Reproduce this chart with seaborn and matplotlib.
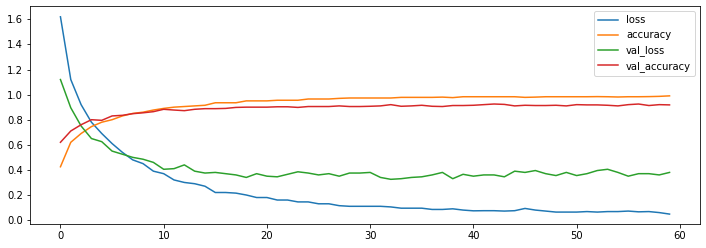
import matplotlib
matplotlib.use("Agg")
import matplotlib.pyplot as plt
import seaborn as sns
import pandas as pd
import numpy as np

epochs = list(range(60))

loss = [1.62, 1.12, 0.92, 0.78, 0.69, 0.61, 0.54, 0.48, 0.45, 0.39,
        0.37, 0.32, 0.30, 0.29, 0.27, 0.22, 0.22, 0.215, 0.20, 0.18,
        0.18, 0.16, 0.16, 0.145, 0.145, 0.13, 0.13, 0.115, 0.11, 0.11,
        0.11, 0.11, 0.105, 0.095, 0.095, 0.095, 0.085, 0.085, 0.09, 0.08,
        0.074, 0.075, 0.075, 0.072, 0.075, 0.093, 0.08, 0.072, 0.064, 0.064,
        0.064, 0.068, 0.064, 0.068, 0.068, 0.072, 0.066, 0.068, 0.06, 0.048]

accuracy = [0.425, 0.62, 0.69, 0.745, 0.78, 0.80, 0.83, 0.85, 0.86, 0.877,
            0.89, 0.90, 0.905, 0.91, 0.915, 0.935, 0.935, 0.935, 0.95, 0.95,
            0.95, 0.955, 0.955, 0.955, 0.965, 0.965, 0.965, 0.97, 0.973, 0.973,
            0.973, 0.973, 0.973, 0.978, 0.978, 0.978, 0.978, 0.98, 0.976, 0.983,
            0.983, 0.983, 0.983, 0.983, 0.983, 0.978, 0.98, 0.983, 0.983, 0.983,
            0.983, 0.983, 0.984, 0.983, 0.981, 0.983, 0.983, 0.984, 0.986, 0.99]

val_loss = [1.12, 0.895, 0.75, 0.65, 0.625, 0.55, 0.525, 0.50, 0.485, 0.46,
            0.405, 0.41, 0.44, 0.39, 0.375, 0.38, 0.37, 0.36, 0.34, 0.37,
            0.35, 0.345, 0.365, 0.385, 0.375, 0.36, 0.37, 0.35, 0.375, 0.375,
            0.38, 0.34, 0.325, 0.33, 0.34, 0.345, 0.36, 0.38, 0.33, 0.365,
            0.35, 0.36, 0.36, 0.345, 0.39, 0.38, 0.395, 0.37, 0.355, 0.38,
            0.355, 0.37, 0.395, 0.405, 0.38, 0.35, 0.37, 0.37, 0.36, 0.38]

val_accuracy = [0.62, 0.71, 0.76, 0.80, 0.795, 0.83, 0.835, 0.848, 0.855, 0.864,
                0.883, 0.877, 0.872, 0.883, 0.888, 0.888, 0.89, 0.898, 0.90, 0.90,
                0.90, 0.903, 0.903, 0.898, 0.905, 0.905, 0.905, 0.91, 0.905, 0.905,
                0.907, 0.91, 0.92, 0.907, 0.91, 0.915, 0.907, 0.905, 0.913, 0.913,
                0.915, 0.92, 0.925, 0.922, 0.91, 0.915, 0.913, 0.913, 0.915, 0.91,
                0.92, 0.918, 0.918, 0.915, 0.91, 0.92, 0.925, 0.913, 0.92, 0.918]

series_names = ["loss", "accuracy", "val_loss", "val_accuracy"]
colors = ["#1f77b4", "#ff7f0e", "#2ca02c", "#d62728"]

df = pd.DataFrame({"epoch": epochs, "loss": loss, "accuracy": accuracy,
                   "val_loss": val_loss, "val_accuracy": val_accuracy})
long = df.melt(id_vars="epoch", var_name="metric", value_name="value")

plt.rcParams["font.family"] = ["DejaVu Sans"]
plt.rcParams["font.size"] = 10

fig = plt.figure(figsize=(706 / 72, 248 / 72), dpi=72)
ax = fig.add_axes([30 / 706, 1 - 224 / 248, (700 - 30) / 706, (224 - 6) / 248])

sns.lineplot(data=long, x="epoch", y="value", hue="metric",
             hue_order=series_names, palette=colors, linewidth=1.5, ax=ax)

ax.set_xlabel("")
ax.set_ylabel("")
ax.set_xlim(-2.95, 61.95)
ax.set_ylim(-0.031, 1.706)
ax.set_xticks([0, 10, 20, 30, 40, 50, 60])
ax.set_yticks(np.round(np.arange(0, 1.7, 0.2), 1))
ax.legend(loc="upper right", title=None)

fig.savefig("out.png", dpi=72)
